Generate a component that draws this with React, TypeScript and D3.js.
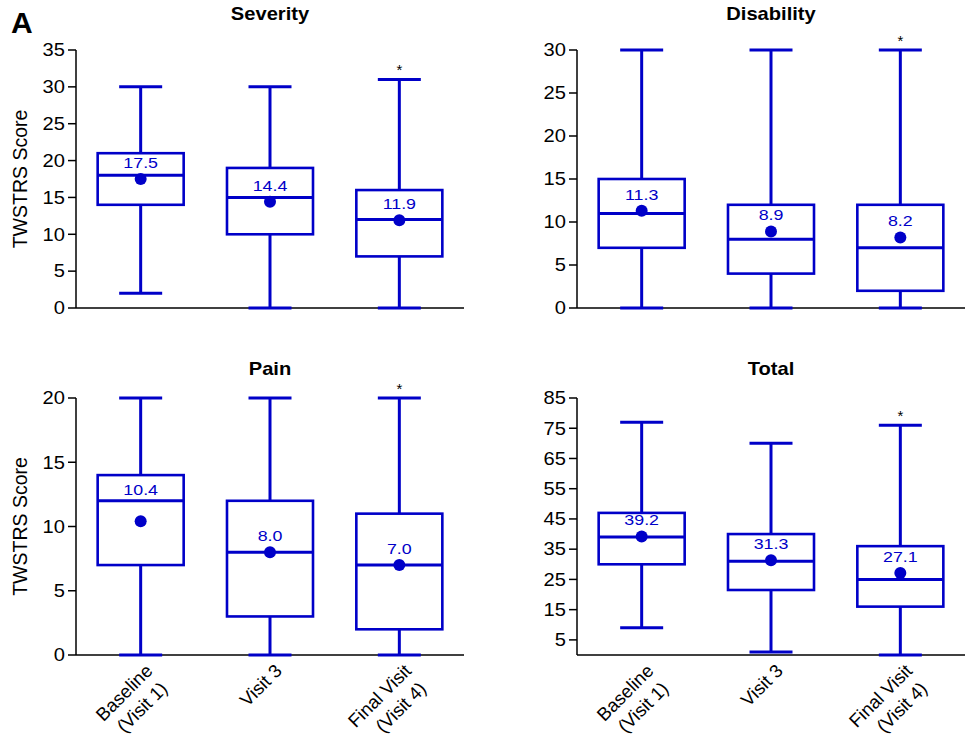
import React from "react";
import * as d3 from "d3";

// visits on the x axis
const visits = ["Baseline (Visit 1)", "Visit 3", "Final Visit (Visit 4)"];
const visitLines = [["Baseline", "(Visit 1)"], ["Visit 3"], ["Final Visit", "(Visit 4)"]];

// box stats per visit: [min, q1, median, q3, max]
const severityBoxes = [[2, 14, 18, 21, 30], [0, 10, 15, 19, 30], [0, 7, 12, 16, 31]];
const severityMeans = [17.5, 14.4, 11.9];
const severityTicks = [0, 5, 10, 15, 20, 25, 30, 35];

const disabilityBoxes = [[0, 7, 11, 15, 30], [0, 4, 8, 12, 30], [0, 2, 7, 12, 30]];
const disabilityMeans = [11.3, 8.9, 8.2];
const disabilityTicks = [0, 5, 10, 15, 20, 25, 30];

const painBoxes = [[0, 7, 12, 14, 20], [0, 3, 8, 12, 20], [0, 2, 7, 11, 20]];
const painMeans = [10.4, 8.0, 7.0];
const painTicks = [0, 5, 10, 15, 20];

const totalBoxes = [[9, 30, 39, 47, 77], [1, 21.5, 31, 40, 70], [0, 16, 25, 36, 76]];
const totalMeans = [39.2, 31.3, 27.1];
const totalTicks = [5, 15, 25, 35, 45, 55, 65, 75, 85];

// significance marks above the whiskers
const marks = ["", "", "*"];

const BLUE = "#0000c8";
const FONT = "'Liberation Sans', Arial, Helvetica, sans-serif";
const SX = 1.15; // the original lettering is a bit wide

const panels = [
  { title: "Severity", boxes: severityBoxes, means: severityMeans, ticks: severityTicks, domain: [0, 35],
    x0: 76, x1: 464, yTop: 50, yBottom: 308, titleY: 20, yLabel: true, xLabels: false },
  { title: "Disability", boxes: disabilityBoxes, means: disabilityMeans, ticks: disabilityTicks, domain: [0, 30],
    x0: 577, x1: 965, yTop: 50, yBottom: 308, titleY: 20, yLabel: false, xLabels: false },
  { title: "Pain", boxes: painBoxes, means: painMeans, ticks: painTicks, domain: [0, 20],
    x0: 76, x1: 464, yTop: 398, yBottom: 655, titleY: 375, yLabel: true, xLabels: true },
  { title: "Total", boxes: totalBoxes, means: totalMeans, ticks: totalTicks, domain: [0, 85],
    x0: 577, x1: 965, yTop: 398, yBottom: 655, titleY: 375, yLabel: false, xLabels: true },
];

function Panel({ p }: { p: any }) {
  const x = d3.scalePoint().domain(visits).range([p.x0, p.x1]).padding(0.5);
  const y = d3.scaleLinear().domain(p.domain).range([p.yBottom, p.yTop]);
  const bw = x.step() * 0.665;
  const cw = bw / 2;
  const cx = (p.x0 + p.x1) / 2;

  return (
    <g>
      <text transform={`translate(${cx},${p.titleY}) scale(${SX},1)`} textAnchor="middle"
        fontSize={17.5} fontWeight="bold" fontFamily={FONT}>{p.title}</text>

      {p.yLabel && (
        <text transform={`translate(27,${(p.yTop + p.yBottom) / 2}) rotate(-90)`} textAnchor="middle"
          fontSize={19.5} fontFamily={FONT}>TWSTRS Score</text>
      )}

      {/* axes */}
      <line x1={p.x0} x2={p.x0} y1={y(p.domain[0])} y2={y(p.domain[1])} stroke="#000" strokeWidth={1.5} />
      <line x1={p.x0} x2={p.x1} y1={p.yBottom} y2={p.yBottom} stroke="#000" strokeWidth={1.5} />
      {p.ticks.map((t: number) => (
        <g key={t}>
          <line x1={p.x0 - 8} x2={p.x0} y1={y(t)} y2={y(t)} stroke="#000" strokeWidth={1.5} />
          <text transform={`translate(${p.x0 - 11},${y(t)}) scale(${SX},1)`} textAnchor="end" dy="0.36em"
            fontSize={17.5} fontFamily={FONT}>{t}</text>
        </g>
      ))}

      {/* boxes */}
      {visits.map((v, i) => {
        const [mn, q1, md, q3, mx] = p.boxes[i];
        const c = x(v) as number;
        const mean = p.means[i];
        const labelY = Math.min(y(mean) - 11, y(md) - 6);
        return (
          <g key={v}>
            <line x1={c} x2={c} y1={y(mn)} y2={y(q1)} stroke={BLUE} strokeWidth={3} />
            <line x1={c} x2={c} y1={y(q3)} y2={y(mx)} stroke={BLUE} strokeWidth={3} />
            <line x1={c - cw / 2} x2={c + cw / 2} y1={y(mn)} y2={y(mn)} stroke={BLUE} strokeWidth={3} />
            <line x1={c - cw / 2} x2={c + cw / 2} y1={y(mx)} y2={y(mx)} stroke={BLUE} strokeWidth={3} />
            <rect x={c - bw / 2} y={y(q3)} width={bw} height={y(q1) - y(q3)} fill="#fff" stroke={BLUE} strokeWidth={2.6} />
            <line x1={c - bw / 2} x2={c + bw / 2} y1={y(md)} y2={y(md)} stroke={BLUE} strokeWidth={3} />
            <circle cx={c} cy={y(mean)} r={6} fill={BLUE} />
            <text transform={`translate(${c},${labelY}) scale(${SX},1)`} textAnchor="middle"
              fontSize={15.5} fontFamily={FONT} fill={BLUE}>{mean.toFixed(1)}</text>
            {marks[i] && (
              <text x={c} y={y(mx) - 4} textAnchor="middle" fontSize={15} fontFamily={FONT}>{marks[i]}</text>
            )}
            {p.xLabels && (
              <text transform={`translate(${c + 13},${p.yBottom + 17}) rotate(-45)`}
                textAnchor="end" fontSize={18.5} fontFamily={FONT}>
                {visitLines[i].map((s, k) => (
                  <tspan key={k} x={k === 0 ? 0 : -2} dy={k === 0 ? 0 : "1.25em"}>{s}</tspan>
                ))}
              </text>
            )}
          </g>
        );
      })}
    </g>
  );
}

export default function App() {
  return (
    <svg width={969} height={748} style={{ position: "absolute", left: 0, top: 0, background: "#fff" }}>
      <text x={11} y={33} fontSize={30} fontWeight="bold" fontFamily={FONT}>A</text>
      {panels.map((p) => (
        <Panel key={p.title} p={p} />
      ))}
    </svg>
  );
}
